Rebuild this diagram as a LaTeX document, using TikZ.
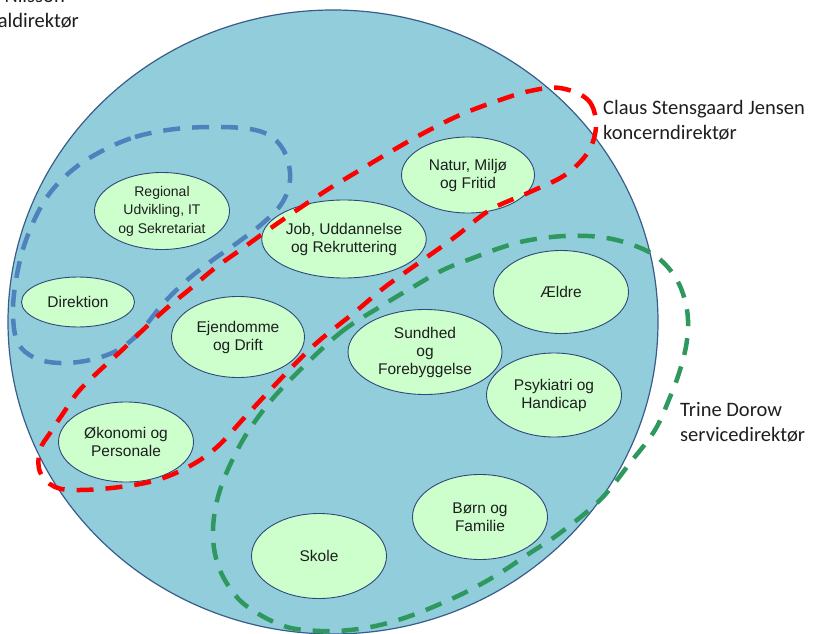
\documentclass[tikz,border=0pt]{standalone}
\usepackage{fontspec}
\setmainfont{Liberation Sans}
\newfontfamily\etiketfont{Carlito}
\usetikzlibrary{shapes.geometric}

\definecolor{kommunefyld}{RGB}{146,205,220}
\definecolor{kommunekant}{RGB}{56,93,138}
\definecolor{ovalfyld}{RGB}{204,255,204}
\definecolor{ovalkant}{RGB}{47,72,120}
\definecolor{blaa}{RGB}{79,129,189}
\definecolor{roed}{RGB}{255,0,0}
\definecolor{groen}{RGB}{46,152,94}
\definecolor{tekst}{RGB}{30,30,30}

\tikzset{
  enhed/.style={ellipse,draw=ovalkant,fill=ovalfyld,line width=0.9pt,
    minimum width=135,minimum height=80,inner sep=0pt,align=center,
    text=tekst,font=\fontsize{15.5}{18}\selectfont},
  omraade/.style={line width=4.5pt,dash pattern=on 17pt off 12pt},
  etiket/.style={inner sep=0pt,align=left,text=tekst,
    font=\etiketfont\fontsize{20.5}{25}\selectfont}
}

\begin{document}
\begin{tikzpicture}[x=1pt,y=-1pt]
      \useasboundingbox (0,0) rectangle (814,634);
      \clip (0,0) rectangle (814,634);
      % kommunen
      \node[ellipse,draw=kommunekant,fill=kommunefyld,line width=1.2pt,
        minimum width=650,minimum height=624] (kommune) at (333,322) {};
      \begin{scope}[every node/.style={enhed}]
        \node[minimum height=77,font=\fontsize{14}{18.5}\selectfont] (regional) at (162,211) {Regional\\Udvikling, IT\\og Sekretariat};
        \node[minimum height=78] (job) at (344,239) {Job, Uddannelse\\og Rekruttering};
        \node[minimum width=133,minimum height=76] (natur) at (468,175) {Natur, Miljø\\og Fritid};
        \node[minimum width=113,minimum height=50] (direktion) at (78,302) {Direktion};
        \node[minimum width=133,minimum height=81] (ejendom) at (238,337) {Ejendomme\\og Drift};
        \node[minimum height=83] (aeldre) at (561,292) {Ældre};
        \node[minimum width=154,minimum height=85] (sundhed) at (425,352) {Sundhed\\og\\Forebyggelse};
        \node[minimum height=84] (psykiatri) at (554,395) {Psykiatri og\\Handicap};
        \node (oekonomi) at (126,442) {Økonomi og\\Personale};
        \node[minimum height=85] (boern) at (480,517) {Børn og\\Familie};
        \node[minimum height=85] (skole) at (319,556) {Skole};
      \end{scope}
      % direktoerernes omraader
      \draw[omraade,blaa] plot[smooth cycle,tension=0.6] coordinates {
        (100,152) (135,137) (175,129) (215,127) (250,129) (272,137) (286,155)
        (290,180) (282,203) (263,223) (237,243) (210,262) (185,282) (162,305)
        (140,332) (118,350) (90,360) (60,363) (35,358) (18,343) (13,315)
        (16,280) (26,240) (45,200) (70,172)};
      \draw[omraade,roed] plot[smooth cycle,tension=0.6] coordinates {
        (560,88) (588,100) (596,125) (588,152) (565,175) (530,192) (490,210)
        (455,237) (420,262) (385,287) (355,312) (320,340) (297,362) (273,387)
        (245,417) (217,447) (190,466) (157,480) (120,487) (80,490) (55,487)
        (40,472) (40,450) (50,433) (62,415) (78,392) (98,372) (120,352)
        (145,328) (168,307) (190,289) (215,268) (243,248) (268,230) (297,210)
        (327,190) (355,173) (385,155) (420,135) (460,115) (500,100) (530,91)};
      \draw[omraade,groen] plot[smooth cycle,tension=0.6] coordinates {
        (293,377) (340,333) (383,305) (413,287) (443,270) (473,258) (503,247)
        (530,240) (565,236) (600,237) (630,244) (657,257) (677,280) (687,310)
        (687,340) (680,370) (670,397) (655,430) (630,463) (600,500) (560,533)
        (530,553) (500,573) (470,590) (440,604) (410,616) (380,625) (350,630)
        (320,631) (287,627) (257,613) (235,595) (218,565) (213,530) (220,490)
        (240,445) (265,408)};
      % direktoererne
      \node[etiket,anchor=base east] (nilsson) at (65,3) {Nilsson};
      \node[etiket,anchor=base east] (nilssontitel) at (79,28) {aldirektør};
      \node[etiket,anchor=north west] (claus) at (603,100) {Claus Stensgaard Jensen\\koncerndirektør};
      \node[etiket,anchor=north west] (trine) at (680,402) {Trine Dorow\\servicedirektør};
\end{tikzpicture}
\end{document}
